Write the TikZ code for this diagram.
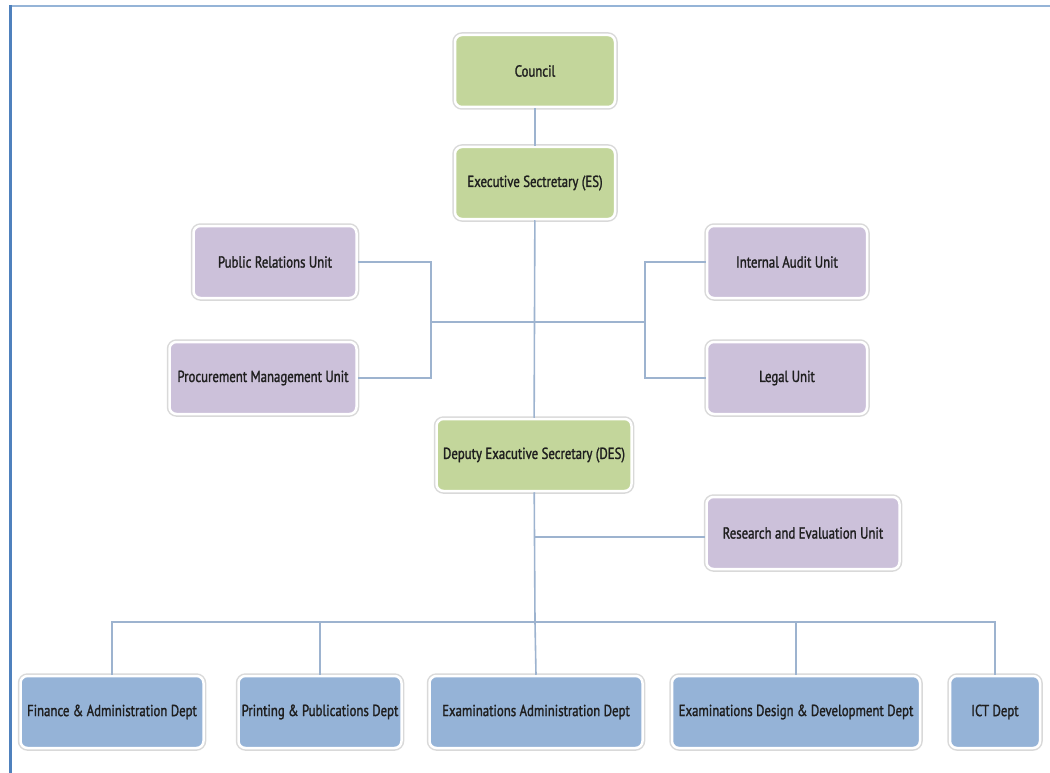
\documentclass[tikz,border=0pt]{standalone}
\usepackage{fontspec}
\setmainfont{PT Sans}[FakeStretch=0.8, FakeBold=1.5]
\definecolor{grn}{HTML}{C3D69B}
\definecolor{pur}{HTML}{CCC1DA}
\definecolor{blu}{HTML}{95B3D7}
\definecolor{lin}{HTML}{9DB3CF}
\definecolor{frm}{HTML}{4F81BD}
\begin{document}
\begin{tikzpicture}[x=1pt,y=-1pt,
  box/.style={rectangle, rounded corners=7pt, minimum height=72pt, inner sep=0pt,
    font=\fontsize{16}{18}\selectfont, text=black!88, draw=white, line width=2.5pt,
    preaction={draw=black!15, line width=5.5pt}},
  gbox/.style={box, fill=grn},
  pbox/.style={box, fill=pur},
  bbox/.style={box, fill=blu},
  conn/.style={draw=lin, line width=1.6pt}]
\useasboundingbox (0,0) rectangle (1050,773);
% frame
\draw[frm!60, line width=1.5pt] (10,6) -- (1050,6);
\draw[frm, line width=3pt] (10,5) -- (10,773);

% nodes
\node[gbox, minimum width=160pt] (council) at (535,71) {Council};
\node[gbox, minimum width=160pt] (es) at (535,183) {Executive Sectretary (ES)};
\node[pbox, minimum width=163pt] (pr) at (275,262) {Public Relations Unit};
\node[pbox, minimum width=187pt] (proc) at (263,378) {Procurement Management Unit};
\node[pbox, minimum width=160pt] (ia) at (787,262) {Internal Audit Unit};
\node[pbox, minimum width=160pt] (legal) at (787,378) {Legal Unit};
\node[gbox, minimum width=195pt] (des) at (534,455) {Deputy Exacutive Secretary (DES)};
\node[pbox, minimum width=193pt] (re) at (803,533) {Research and Evaluation Unit};
\node[bbox, minimum width=183pt] (fin) at (112,712) {Finance \& Administration Dept};
\node[bbox, minimum width=163pt] (print) at (320,712) {Printing \& Publications Dept};
\node[bbox, minimum width=213pt] (exadm) at (536,712) {Examinations Administration Dept};
\node[bbox, minimum width=248pt] (edd) at (796,712) {Examinations Design \& Development Dept};
\node[bbox, minimum width=90pt] (ict) at (995,712) {ICT Dept};

% junction coordinates
\coordinate (hub) at (535,322);
\coordinate (lbr) at (431,322);
\coordinate (rbr) at (645,322);
\coordinate (rej) at (535,537);
\coordinate (bus) at (535,622);

% connectors
\draw[conn] (council) -- (es);
\draw[conn] (es) -- (des);
\draw[conn] (lbr) -- (rbr);
\draw[conn] (pr.east) -| (lbr) |- (proc.east);
\draw[conn] (ia.west) -| (rbr) |- (legal.west);
\draw[conn] (des) -- (bus);
\draw[conn] (rej) -- (re.west |- rej);
\draw[conn] (fin.north) |- (bus) -| (ict.north);
\draw[conn] (bus) -| (print.north);
\draw[conn] (bus) -| (edd.north);
\draw[conn] (bus) -- (exadm.north);
\end{tikzpicture}
\end{document}
